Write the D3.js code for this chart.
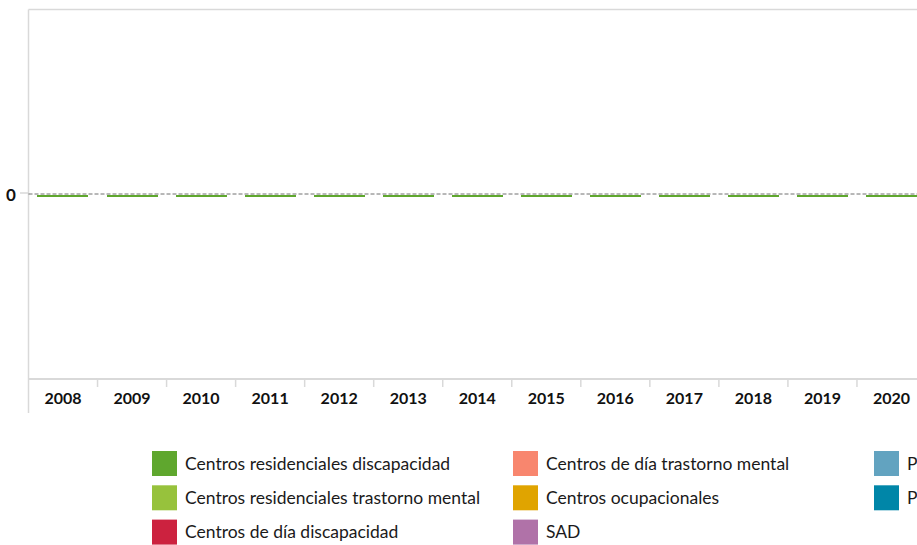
<!DOCTYPE html>
<html>
<head>
<meta charset="utf-8">
<script src="https://cdn.jsdelivr.net/npm/d3@7"></script>
<style>
  html, body { margin: 0; padding: 0; background: #fff; overflow: hidden; }
  svg { display: block; font-family: Lato, "Open Sans", sans-serif; }
</style>
</head>
<body>
<div id="chart-area"></div>
<script>
var years = ["2008", "2009", "2010", "2011", "2012", "2013", "2014", "2015", "2016", "2017", "2018", "2019", "2020"];
var seriesNames = [
  "Centros residenciales discapacidad",
  "Centros residenciales trastorno mental",
  "Centros de día discapacidad",
  "Centros de día trastorno mental",
  "Centros ocupacionales",
  "SAD",
  "Prestación económica vinculada al servicio",
  "Prestación económica cuidados entorno familiar"
];
var seriesColors = ["#5fa72e", "#97c23c", "#cc223f", "#f8866e", "#e0a400", "#b072a8", "#62a3c0", "#0086a8"];
// every series is zero for every year
var resDiscapacidad = [0, 0, 0, 0, 0, 0, 0, 0, 0, 0, 0, 0, 0];
var resTrastorno = [0, 0, 0, 0, 0, 0, 0, 0, 0, 0, 0, 0, 0];
var diaDiscapacidad = [0, 0, 0, 0, 0, 0, 0, 0, 0, 0, 0, 0, 0];
var diaTrastorno = [0, 0, 0, 0, 0, 0, 0, 0, 0, 0, 0, 0, 0];
var ocupacionales = [0, 0, 0, 0, 0, 0, 0, 0, 0, 0, 0, 0, 0];
var sad = [0, 0, 0, 0, 0, 0, 0, 0, 0, 0, 0, 0, 0];
var pevs = [0, 0, 0, 0, 0, 0, 0, 0, 0, 0, 0, 0, 0];
var pecef = [0, 0, 0, 0, 0, 0, 0, 0, 0, 0, 0, 0, 0];
var yTicks = [0];

var allSeries = [resDiscapacidad, resTrastorno, diaDiscapacidad, diaTrastorno, ocupacionales, sad, pevs, pecef];

var width = 917, height = 545;
var plotLeft = 28.5, plotRight = 926, plotTop = 9.5, plotBottom = 378.5;

var table = years.map(function (y, i) {
  var row = { year: y };
  seriesNames.forEach(function (s, j) { row[s] = allSeries[j][i]; });
  return row;
});
var stacked = d3.stack().keys(seriesNames)(table);

var color = d3.scaleOrdinal().domain(seriesNames).range(seriesColors);

var xscale = d3.scaleBand()
  .domain(years)
  .range([plotLeft, plotRight])
  .paddingInner(0.26)
  .paddingOuter(0.13);
var xSlots = d3.scaleBand().domain(years).range([plotLeft, plotRight]);
var yscale = d3.scaleLinear().domain([-1, 1]).range([plotBottom, plotTop]);

var svg = d3.select("#chart-area")
  .append("svg")
  .attr("width", width)
  .attr("height", height);

// frame
svg.append("line")
  .attr("x1", plotLeft).attr("x2", width)
  .attr("y1", plotTop).attr("y2", plotTop)
  .attr("stroke", "#d9d9d9").attr("stroke-width", 1.5);
svg.append("line")
  .attr("x1", plotLeft).attr("x2", plotLeft)
  .attr("y1", plotTop).attr("y2", 413)
  .attr("stroke", "#d9d9d9").attr("stroke-width", 1.5);

// y axis
var yAxis = svg.append("g");
yAxis.selectAll("line.tick")
  .data(yTicks).enter().append("line")
  .attr("x1", 20).attr("x2", plotLeft)
  .attr("y1", function (d) { return yscale(d) - 1; })
  .attr("y2", function (d) { return yscale(d) - 1; })
  .attr("stroke", "#d9d9d9").attr("stroke-width", 1.5);
yAxis.selectAll("text")
  .data(yTicks).enter().append("text")
  .attr("x", 11)
  .attr("y", function (d) { return yscale(d); })
  .attr("text-anchor", "middle")
  .attr("dominant-baseline", "central")
  .attr("font-size", "17px")
  .attr("font-weight", "bold")
  .attr("fill", "#111")
  .text(function (d) { return d; });

// bars (first series drawn last so it sits on top)
var groups = svg.selectAll("g.series")
  .data(stacked.slice().reverse())
  .enter().append("g")
  .attr("fill", function (d) { return color(d.key); })
  .attr("shape-rendering", "crispEdges");
groups.selectAll("rect")
  .data(function (d) { return d; })
  .enter().append("rect")
  .attr("x", function (d) { return Math.round(xscale(d.data.year)); })
  .attr("width", Math.round(xscale.bandwidth()))
  .attr("y", function (d) { return Math.round(yscale(d[1])) + 1; })
  .attr("height", function (d) { return Math.max(2, yscale(d[0]) - yscale(d[1])); });

// zero line
svg.append("line")
  .attr("x1", plotLeft).attr("x2", width)
  .attr("y1", yscale(0)).attr("y2", yscale(0))
  .attr("stroke", "#707070").attr("stroke-width", 1)
  .attr("stroke-dasharray", "4,2");

// x axis
svg.append("line")
  .attr("x1", plotLeft).attr("x2", width)
  .attr("y1", plotBottom + 0.5).attr("y2", plotBottom + 0.5)
  .attr("stroke", "#d9d9d9").attr("stroke-width", 2);
svg.selectAll("line.xsep")
  .data(years.slice(1)).enter().append("line")
  .attr("class", "xsep")
  .attr("x1", function (d) { return xSlots(d); })
  .attr("x2", function (d) { return xSlots(d); })
  .attr("y1", plotBottom).attr("y2", 387)
  .attr("stroke", "#d9d9d9").attr("stroke-width", 1.5);
svg.selectAll("text.xlab")
  .data(years).enter().append("text")
  .attr("class", "xlab")
  .attr("x", function (d) { return xSlots(d) + xSlots.bandwidth() / 2; })
  .attr("y", 397)
  .attr("text-anchor", "middle")
  .attr("dominant-baseline", "central")
  .attr("font-size", "16px")
  .attr("font-weight", "bold")
  .attr("fill", "#111")
  .text(function (d) { return d; });

// legend, column-major, 3 rows
var legend = svg.selectAll("g.legend")
  .data(seriesNames).enter().append("g")
  .attr("transform", function (d, i) {
    var col = Math.floor(i / 3), row = i % 3;
    return "translate(" + (152 + col * 361) + "," + (451 + row * 34.3) + ")";
  });
legend.append("rect")
  .attr("width", 25).attr("height", 25)
  .attr("fill", function (d) { return color(d); });
legend.append("text")
  .attr("x", 33).attr("y", 12)
  .attr("dominant-baseline", "central")
  .attr("font-size", "17.5px")
  .attr("fill", "#1a1a1a")
  .text(function (d) { return d; });
</script>
</body>
</html>
